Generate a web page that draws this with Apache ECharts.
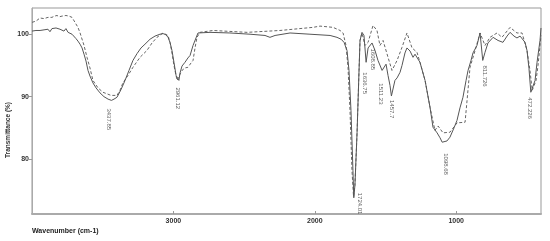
<!DOCTYPE html>
<html>
<head>
<meta charset="utf-8">
<script src="https://cdn.jsdelivr.net/npm/echarts@6/dist/echarts.min.js"></script>
<style>
  html, body { margin: 0; padding: 0; background: #fff; }
  #chart { width: 550px; height: 241px; }
</style>
</head>
<body>
<div id="chart"></div>
<script>
// 光谱数据 (wavenumber cm-1, transmittance %)
var solidWave = [4000, 3986, 3972, 3958, 3943, 3929, 3915, 3901, 3887, 3873, 3859, 3845, 3830, 3816, 3802, 3788, 3774, 3760, 3745, 3731, 3717, 3703, 3689, 3675, 3660, 3646, 3632, 3618, 3604, 3590, 3569, 3547, 3519, 3491, 3462, 3438, 3420, 3399, 3371, 3342, 3314, 3286, 3257, 3229, 3201, 3165, 3130, 3095, 3073, 3052, 3038, 3024, 3010, 2996, 2981, 2961, 2953, 2939, 2918, 2897, 2882, 2861, 2840, 2826, 2812, 2741, 2600, 2458, 2352, 2317, 2281, 2175, 2034, 1892, 1843, 1814, 1793, 1772, 1758, 1744, 1730, 1724, 1716, 1701, 1687, 1680, 1666, 1652, 1637, 1623, 1609, 1595, 1574, 1553, 1539, 1524, 1511, 1496, 1482, 1468, 1458, 1433, 1418, 1397, 1383, 1362, 1348, 1326, 1305, 1291, 1277, 1256, 1220, 1185, 1164, 1135, 1114, 1099, 1065, 1044, 1015, 994, 973, 952, 930, 916, 895, 881, 853, 831, 812, 796, 775, 739, 704, 669, 640, 619, 591, 570, 548, 534, 513, 499, 485, 472, 442, 428, 407, 400];
var solidT = [100.5, 100.4, 100.6, 100.3, 100.6, 100.4, 100.7, 100.5, 100.8, 100.4, 100.9, 100.6, 101.0, 101.2, 100.8, 101.1, 100.5, 100.9, 100.3, 100.6, 100.0, 99.8, 99.3, 98.9, 98.4, 97.8, 96.8, 95.7, 94.2, 93.3, 92.2, 91.4, 90.6, 90.0, 89.6, 89.4, 89.6, 89.9, 91.1, 92.6, 94.2, 95.8, 96.9, 97.8, 98.4, 99.2, 99.7, 100.0, 100.1, 99.9, 99.5, 98.7, 97.4, 95.5, 93.4, 92.6, 93.8, 94.9, 95.5, 96.2, 96.6, 98.2, 99.4, 100.2, 100.3, 100.3, 100.2, 100.0, 99.8, 99.5, 99.8, 100.2, 100.0, 99.8, 99.5, 99.2, 98.7, 97.4, 94.2, 87.8, 78.2, 73.8, 75.8, 84.2, 94.2, 99.0, 100.3, 99.8, 95.5, 97.8, 97.9, 98.6, 97.4, 95.8, 95.5, 94.2, 93.9, 95.2, 93.4, 91.8, 90.1, 92.6, 93.0, 93.9, 95.0, 97.0, 97.8, 97.3, 96.3, 96.8, 97.0, 95.5, 92.6, 88.3, 85.1, 84.2, 83.4, 82.7, 82.9, 83.5, 85.0, 86.2, 88.2, 89.9, 92.6, 94.2, 95.8, 97.0, 98.2, 100.2, 95.8, 97.1, 98.6, 99.5, 99.0, 98.7, 99.7, 100.3, 99.7, 99.4, 99.7, 99.8, 98.7, 97.4, 94.5, 90.7, 92.6, 95.5, 99.0, 101.0];

var dashWave = [4000, 3986, 3972, 3958, 3943, 3929, 3915, 3901, 3887, 3873, 3859, 3841, 3823, 3806, 3788, 3774, 3760, 3738, 3717, 3696, 3675, 3660, 3632, 3611, 3590, 3569, 3533, 3498, 3441, 3399, 3378, 3357, 3321, 3286, 3236, 3187, 3151, 3116, 3073, 3038, 3024, 3010, 2996, 2974, 2953, 2939, 2918, 2897, 2875, 2861, 2847, 2833, 2812, 2720, 2479, 2246, 2012, 1963, 1871, 1821, 1800, 1779, 1765, 1751, 1737, 1726, 1716, 1701, 1687, 1680, 1666, 1645, 1623, 1588, 1560, 1539, 1517, 1482, 1454, 1418, 1383, 1348, 1312, 1277, 1256, 1220, 1185, 1150, 1128, 1093, 1044, 994, 937, 923, 902, 866, 831, 796, 761, 711, 676, 619, 570, 534, 499, 478, 462, 435, 421, 407, 400];
var dashT = [101.9, 102.0, 102.1, 102.4, 102.6, 102.4, 102.5, 102.7, 102.7, 102.5, 102.7, 102.9, 103.0, 102.8, 102.9, 103.1, 103.0, 102.9, 102.7, 101.9, 101.1, 100.2, 98.2, 96.3, 94.6, 92.6, 91.4, 90.7, 90.2, 90.2, 91.0, 92.2, 93.4, 94.7, 96.3, 97.4, 98.6, 99.5, 100.2, 99.8, 98.7, 97.0, 95.0, 92.6, 93.6, 94.2, 94.6, 94.7, 95.4, 95.8, 97.8, 99.5, 100.3, 100.6, 100.3, 100.6, 101.1, 101.3, 101.1, 100.6, 100.2, 98.2, 94.7, 87.8, 78.2, 74.0, 75.8, 84.2, 94.2, 99.0, 100.2, 98.2, 98.7, 101.4, 100.6, 98.2, 99.0, 96.3, 94.2, 95.8, 97.9, 100.2, 97.8, 97.1, 95.5, 92.6, 88.3, 84.6, 85.3, 84.2, 84.3, 85.8, 85.9, 89.4, 94.7, 97.4, 100.2, 98.2, 99.5, 100.2, 99.5, 101.1, 100.2, 100.2, 97.4, 94.2, 91.0, 92.6, 95.0, 98.2, 99.8];

var peakWave = [3437.85, 2961.12, 1724.01, 1636.75, 1608.85, 1511.23, 1457.7, 1098.68, 811.726, 472.226];
var peakT = [89.4, 92.6, 73.8, 95.5, 98.2, 93.9, 90.1, 82.7, 95.8, 90.7];
var peakText = ["3437.85", "2961.12", "1724.01", "1636.75", "1608.85", "1511.23", "1457.7", "1098.68", "811.726", "472.226"];
// 标签相对峰点的像素偏移 [dx, dy]
var labelOffset = [[-3, 8], [-1, 7], [6, -5], [-1, 10], [3, 3], [-3, 11], [0, 4], [3, 11], [2, 5], [-1, 5]];

var xTicks = [1000, 2000, 3000];
var yTicks = [80, 90, 100];

function pairs(xs, ys) {
  return xs.map(function (x, i) { return [x, ys[i]]; });
}

var myChart = echarts.init(document.getElementById("chart"), null, { renderer: "canvas" });

var option = {
  animation: false,
  grid: {
    left: 32,
    right: 9,
    top: 8,
    bottom: 27,
    show: true,
    borderColor: "#999",
    borderWidth: 1
  },
  xAxis: {
    type: "value",
    min: 400,
    max: 4000,
    inverse: true,
    axisLine: { show: true, lineStyle: { color: "#aaa", width: 2 } },
    axisTick: { show: true, inside: true, length: 3, customValues: xTicks, lineStyle: { color: "#999" } },
    axisLabel: {
      customValues: xTicks,
      formatter: function (v) { return String(v); },
      fontSize: 7,
      fontWeight: "bold",
      color: "#333",
      fontFamily: "Liberation Sans",
      margin: 4
    },
    splitLine: { show: false }
  },
  yAxis: {
    type: "value",
    min: 71.2,
    max: 104.2,
    axisLine: { show: true, lineStyle: { color: "#aaa", width: 1 } },
    axisTick: { show: true, length: 3, customValues: yTicks, lineStyle: { color: "#999" } },
    axisLabel: {
      customValues: yTicks,
      fontSize: 7,
      fontWeight: "bold",
      color: "#333",
      fontFamily: "Liberation Sans",
      margin: 3
    },
    splitLine: { show: false }
  },
  graphic: [
    {
      type: "text",
      left: 32,
      top: 228,
      style: {
        text: "Wavenumber (cm-1)",
        fontSize: 7,
        fontWeight: "bold",
        fill: "#222",
        fontFamily: "Liberation Sans"
      }
    },
    {
      type: "text",
      x: 8,
      y: 130,
      rotation: Math.PI / 2,
      style: {
        text: "Transmittance (%)",
        fontSize: 6.5,
        fontWeight: "bold",
        fill: "#333",
        fontFamily: "Liberation Sans",
        align: "center",
        verticalAlign: "middle"
      }
    }
  ],
  series: [
    {
      name: "dashed",
      type: "line",
      symbol: "none",
      data: pairs(dashWave, dashT),
      lineStyle: { color: "#666", width: 1, type: [3, 2] },
      z: 2
    },
    {
      name: "solid",
      type: "line",
      symbol: "none",
      data: pairs(solidWave, solidT),
      lineStyle: { color: "#555", width: 1 },
      z: 3
    },
    {
      name: "peaks",
      type: "scatter",
      symbolSize: 0,
      silent: true,
      z: 4,
      data: peakWave.map(function (w, i) {
        return {
          value: [w, peakT[i]],
          label: {
            show: true,
            formatter: peakText[i],
            position: labelOffset[i],
            rotate: -90,
            align: "left",
            verticalAlign: "middle",
            fontSize: 6,
            color: "#333",
            fontFamily: "Liberation Sans"
          }
        };
      })
    }
  ]
};

myChart.setOption(option);
</script>
</body>
</html>
